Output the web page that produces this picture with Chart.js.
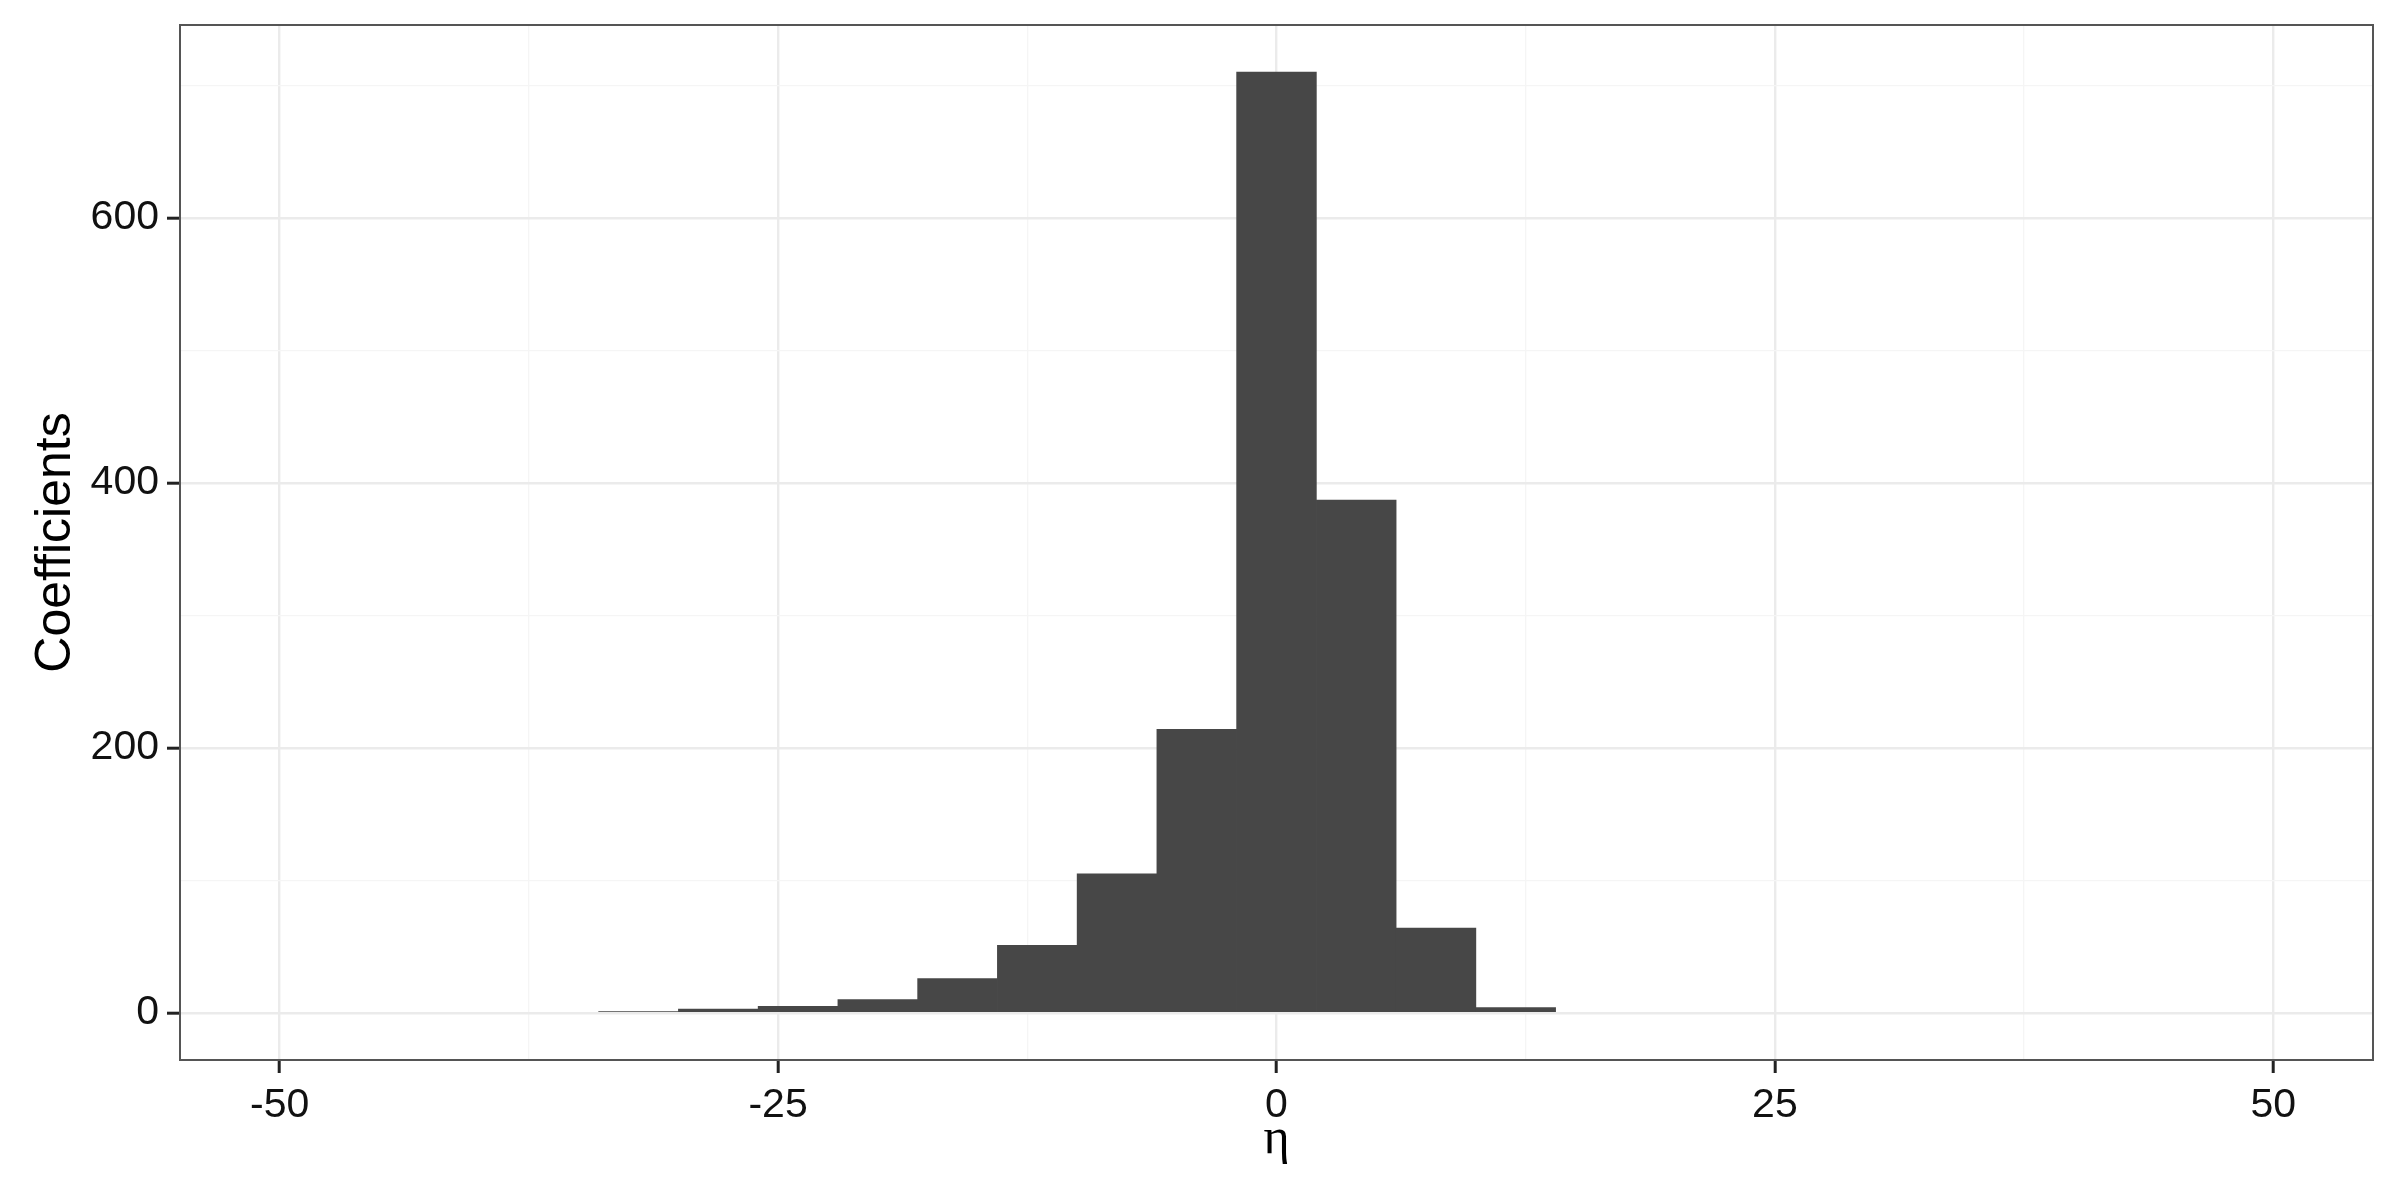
<!DOCTYPE html>
<html>
<head>
<meta charset="utf-8">
<script src="https://cdn.jsdelivr.net/npm/chart.js@4.4.1/dist/chart.umd.min.js"></script>
<style>
  html, body { margin: 0; padding: 0; background: #ffffff; }
  #wrap { width: 2400px; height: 1200px; }
</style>
</head>
<body>
<div id="wrap"><canvas id="c" width="2400" height="1200"></canvas></div>
<script>
// ---- data (histogram of eta, binwidth 4) ----
const binCenters = [-32, -28, -24, -20, -16, -12, -8, -4, 0, 4, 8, 12];
const binCounts  = [1, 3, 5, 10, 26, 51, 105, 214, 710, 387, 64, 4];

// ---- axes ----
const xMajorTicks = [-50, -25, 0, 25, 50];
const xMinorTicks = [-37.5, -12.5, 12.5, 37.5];
const yMajorTicks = [0, 200, 400, 600];
const yMinorTicks = [100, 300, 500, 700];
const xRange = [-55, 55];
const yRange = [-35.5, 745.5];
const xTitle = 'η';
const yTitle = 'Coefficients';

const points = binCenters.map((c, i) => ({ x: c, y: binCounts[i] }));

const isMajor = (list, v) => list.some(m => Math.abs(m - v) < 1e-9);
const tickVal = (ctx) => (ctx && ctx.tick) ? ctx.tick.value : NaN;

const panelBorder = {
  id: 'panelBorder',
  afterDraw(chart) {
    const { ctx, chartArea: a } = chart;
    ctx.save();
    ctx.strokeStyle = '#555555';
    ctx.lineWidth = 2;
    ctx.strokeRect(a.left, a.top, a.right - a.left, a.bottom - a.top);
    ctx.restore();
  }
};

new Chart(document.getElementById('c'), {
  type: 'bar',
  data: {
    datasets: [{
      data: points,
      backgroundColor: '#474747',
      borderWidth: 0,
      barPercentage: 1.0,
      categoryPercentage: 1.0
    }]
  },
  options: {
    responsive: false,
    devicePixelRatio: 1,
    animation: false,
    layout: { padding: { left: 0, right: 27, top: 25, bottom: 0 } },
    plugins: { legend: { display: false }, tooltip: { enabled: false } },
    scales: {
      x: {
        type: 'linear',
        min: xRange[0],
        max: xRange[1],
        offset: false,
        afterBuildTicks: (s) => {
          s.ticks = [...xMajorTicks, ...xMinorTicks].sort((a, b) => a - b).map(v => ({ value: v }));
        },
        afterFit: (s) => { s.height = 140; },
        border: { display: false },
        grid: {
          offset: false,
          color: (ctx) => isMajor(xMajorTicks, tickVal(ctx)) ? '#EBEBEB' : '#F5F5F5',
          lineWidth: (ctx) => isMajor(xMajorTicks, tickVal(ctx)) ? 2.4 : 1.3,
          drawTicks: true,
          tickLength: 13,
          tickColor: (ctx) => isMajor(xMajorTicks, tickVal(ctx)) ? '#222222' : 'rgba(0,0,0,0)',
          tickWidth: 3
        },
        ticks: {
          autoSkip: false,
          maxRotation: 0,
          padding: 8,
          color: '#111111',
          font: { family: 'Liberation Sans, Arial, sans-serif', size: 41 },
          callback: (v) => isMajor(xMajorTicks, v) ? String(v) : ''
        },
        title: {
          display: true,
          text: xTitle,
          color: '#000000',
          padding: { top: 0, bottom: 30 },
          font: { family: 'Liberation Serif, serif', size: 50 }
        }
      },
      y: {
        type: 'linear',
        min: yRange[0],
        max: yRange[1],
        afterBuildTicks: (s) => {
          s.ticks = [...yMajorTicks, ...yMinorTicks].sort((a, b) => a - b).map(v => ({ value: v }));
        },
        afterFit: (s) => { s.width = 180; },
        border: { display: false },
        grid: {
          color: (ctx) => isMajor(yMajorTicks, tickVal(ctx)) ? '#EBEBEB' : '#F5F5F5',
          lineWidth: (ctx) => isMajor(yMajorTicks, tickVal(ctx)) ? 2.4 : 1.3,
          drawTicks: true,
          tickLength: 13,
          tickColor: (ctx) => isMajor(yMajorTicks, tickVal(ctx)) ? '#222222' : 'rgba(0,0,0,0)',
          tickWidth: 3
        },
        ticks: {
          autoSkip: false,
          padding: 8,
          color: '#111111',
          font: { family: 'Liberation Sans, Arial, sans-serif', size: 41, lineHeight: 0.6 },
          callback: (v) => isMajor(yMajorTicks, v) ? String(v) : ''
        },
        title: {
          display: true,
          text: yTitle,
          color: '#000000',
          padding: { top: 26, bottom: 0 },
          font: { family: 'Liberation Sans, Arial, sans-serif', size: 50 }
        }
      }
    }
  },
  plugins: [panelBorder]
});
</script>
</body>
</html>
